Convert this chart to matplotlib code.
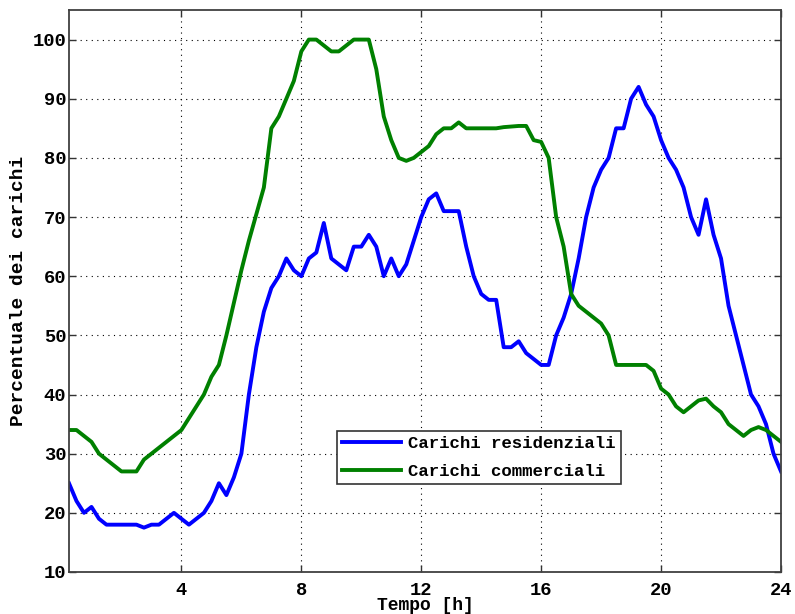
import numpy as np
import matplotlib
matplotlib.use("Agg")
import matplotlib.pyplot as plt

# ore del giorno, un campione ogni 15 minuti
ore = np.arange(1, 97) * 0.25

# carichi residenziali [%]
residenziali = [
    25, 22, 20, 21, 19, 18, 18, 18,
    18, 18, 17.5, 18, 18, 19, 20, 19,
    18, 19, 20, 22, 25, 23, 26, 30,
    40, 48, 54, 58, 60, 63, 61, 60,
    63, 64, 69, 63, 62, 61, 65, 65,
    67, 65, 60, 63, 60, 62, 66, 70,
    73, 74, 71, 71, 71, 65, 60, 57,
    56, 56, 48, 48, 49, 47, 46, 45,
    45, 50, 53, 57, 63, 70, 75, 78,
    80, 85, 85, 90, 92, 89, 87, 83,
    80, 78, 75, 70, 67, 73, 67, 63,
    55, 50, 45, 40, 38, 35, 30, 27,
]

# carichi commerciali [%]
commerciali = [
    34, 34, 33, 32, 30, 29, 28, 27,
    27, 27, 29, 30, 31, 32, 33, 34,
    36, 38, 40, 43, 45, 50, 55.5, 61,
    66, 70.5, 75, 85, 87, 90, 93, 98,
    100, 100, 99, 98, 98, 99, 100, 100,
    100, 95, 87, 83, 80, 79.5, 80, 81,
    82, 84, 85, 85, 86, 85, 85, 85,
    85, 85, 85.2, 85.3, 85.4, 85.4, 83, 82.7,
    80, 70, 65, 57, 55, 54, 53, 52,
    50, 45, 45, 45, 45, 45, 44, 41,
    40, 38, 37, 38, 39, 39.3, 38, 37,
    35, 34, 33, 34, 34.5, 34, 33, 32,
]

etichette = ["Carichi residenziali", "Carichi commerciali"]
xticks = [4, 8, 12, 16, 20, 24]
yticks = list(range(10, 101, 10))

font = "Liberation Mono"

fig = plt.figure(figsize=(7.95, 6.14), dpi=100)
ax = fig.add_axes([69 / 795, 42 / 614, 712 / 795, 562 / 614])

ax.plot(ore, residenziali, color="#0000ff", lw=2.8, label=etichette[0])
ax.plot(ore, commerciali, color="#008000", lw=2.8, label=etichette[1])

ax.set_xlim(0.25, 24)
ax.set_ylim(10, 105)
ax.set_xticks(xticks)
ax.set_yticks(yticks)

ax.grid(True, color="#000000", lw=0.8, linestyle=(0, (1, 4)))
ax.tick_params(direction="in", length=5, width=1, top=True, right=True,
               color="#333333", labelsize=13.5)
ax.tick_params(axis="y", pad=2)
ax.tick_params(axis="x", pad=7)
for lab in ax.get_xticklabels() + ax.get_yticklabels():
    lab.set_fontfamily(font)
    lab.set_fontweight("bold")
for s in ax.spines.values():
    s.set_color("#404040")
    s.set_linewidth(1.3)

ax.set_xlabel("Tempo [h]", fontfamily=font, fontweight="bold", fontsize=13, labelpad=-1)
ax.set_ylabel("Percentuale dei carichi", fontfamily=font, fontweight="bold", fontsize=14, labelpad=4)

leg = ax.legend(loc="upper left", bbox_to_anchor=(0.376, 0.2514), borderaxespad=0,
                prop={"family": font, "weight": "bold", "size": 12.5},
                fancybox=False, framealpha=1, edgecolor="#333333",
                handlelength=3.4, handletextpad=0.4, borderpad=0.3, labelspacing=0.75)
leg.get_frame().set_linewidth(1.2)

fig.savefig("out.png", dpi=100)
